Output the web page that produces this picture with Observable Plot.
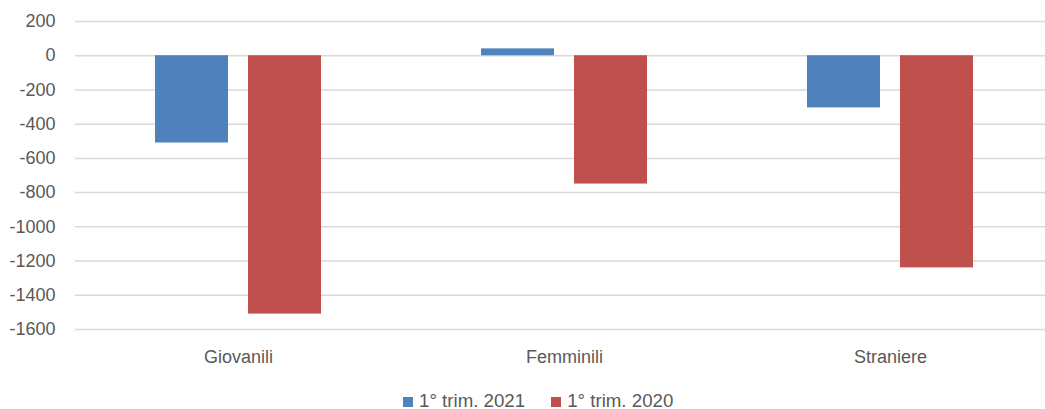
<!DOCTYPE html>
<html>
<head>
<meta charset="utf-8">
<script src="https://cdn.jsdelivr.net/npm/d3@7"></script>
<script src="https://cdn.jsdelivr.net/npm/@observablehq/plot@0.6"></script>
<style>
  html, body { margin: 0; padding: 0; background: #fff; }
  body { position: relative; width: 1045px; height: 409px; overflow: hidden; font-family: "Liberation Sans", Arial, sans-serif; }
  #legend { position: absolute; top: 391px; left: 403px; display: flex; align-items: center; height: 20px; color: #595959; font-size: 18.7px; }
  .item { display: flex; align-items: center; margin-right: 26px; }
  .sw { width: 10px; height: 10px; margin-right: 6px; margin-top: 1px; }
</style>
</head>
<body>
<div id="chart"></div>
<div id="legend"></div>
<script>
const categories = ["Giovanili", "Femminili", "Straniere"];
const series = ["1° trim. 2021", "1° trim. 2020"];
const values2021 = [-510, 40, -305];
const values2020 = [-1510, -750, -1240];
const yTicks = [200, 0, -200, -400, -600, -800, -1000, -1200, -1400, -1600];
const colors = ["#4f81bd", "#c0504d"];

const data = [];
categories.forEach((c, i) => {
  data.push({cat: c, series: series[0], value: values2021[i]});
  data.push({cat: c, series: series[1], value: values2020[i]});
});

const chart = Plot.plot({
  width: 1045,
  height: 372,
  marginLeft: 75,
  marginRight: -8,
  marginTop: 21,
  marginBottom: 43,
  style: {fontFamily: "Liberation Sans, Arial, sans-serif", fontSize: "18px", color: "#595959", background: "#fff"},
  fx: {domain: categories, padding: 0, label: null},
  x: {domain: series, paddingInner: 0.215, paddingOuter: 0.8575, axis: null},
  y: {domain: [-1600, 200], label: null},
  color: {domain: series, range: colors},
  marks: [
    Plot.gridY(yTicks, {stroke: "#d9d9d9", strokeOpacity: 1, strokeWidth: 1.5}),
    Plot.barY(data, {fx: "cat", x: "series", y: "value", fill: "series"}),
    Plot.axisY(yTicks, {tickSize: 0, tickPadding: 20, tickFormat: d => String(d), fill: "#595959", label: null}),
    Plot.axisFx({anchor: "bottom", tickSize: 0, tickPadding: 21, fill: "#595959", label: null})
  ]
});
document.getElementById("chart").appendChild(chart);

const legend = document.getElementById("legend");
series.forEach((s, i) => {
  const item = document.createElement("div");
  item.className = "item";
  const sw = document.createElement("div");
  sw.className = "sw";
  sw.style.background = colors[i];
  const t = document.createElement("span");
  t.textContent = s;
  item.appendChild(sw);
  item.appendChild(t);
  legend.appendChild(item);
});
</script>
</body>
</html>
